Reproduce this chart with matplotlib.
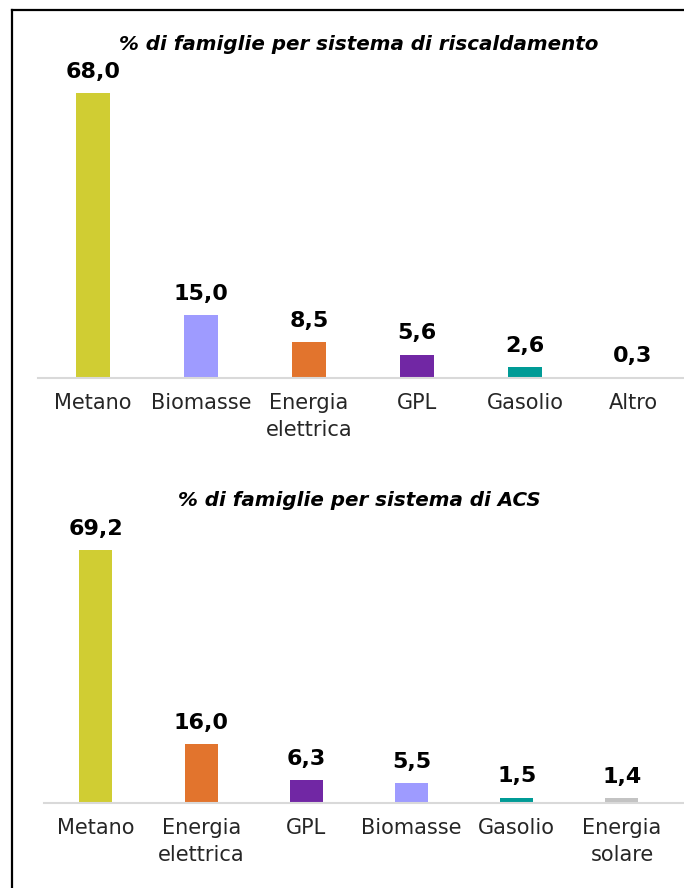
import numpy as np
import matplotlib.pyplot as plt
from matplotlib.lines import Line2D

plt.rcParams['font.family'] = ['DejaVu Sans']

# top chart: heating systems
cat_risc = ['Metano', 'Biomasse', 'Energia\nelettrica', 'GPL', 'Gasolio', 'Altro']
val_risc = [68.0, 15.0, 8.5, 5.6, 2.6, 0.3]
col_risc = ['#d0cd33', '#9e9bff', '#e2742d', '#7127a4', '#009b96', '#d0d0d0']

# bottom chart: hot water (ACS)
cat_acs = ['Metano', 'Energia\nelettrica', 'GPL', 'Biomasse', 'Gasolio', 'Energia\nsolare']
val_acs = [69.2, 16.0, 6.3, 5.5, 1.5, 1.4]
col_acs = ['#d0cd33', '#e2742d', '#7127a4', '#9e9bff', '#009b96', '#c3c3c3']

W, H = 684, 888
fig = plt.figure(figsize=(W / 100, H / 100), dpi=100)


def draw(ax, cats, vals, cols, ymax, width):
    x = np.arange(len(cats))
    ax.bar(x, vals, width=width, color=cols)
    for xi, v in zip(x, vals):
        ax.annotate(f'{v:.1f}'.replace('.', ','), (xi, v), xytext=(0, 8),
                    textcoords='offset points', ha='center', va='bottom',
                    fontsize=16, fontweight='bold', color='black')
    ax.set_ylim(0, ymax)
    ax.set_yticks([])
    ax.set_xticks(x)
    ax.set_xticklabels(cats, fontsize=15, color='#262626', linespacing=1.45)
    ax.tick_params(axis='x', length=0, pad=11)
    for s in ['top', 'right', 'left']:
        ax.spines[s].set_visible(False)
    ax.spines['bottom'].set_color('#d9d9d9')
    ax.spines['bottom'].set_linewidth(1.5)
    ax.patch.set_alpha(0)


# top axes: baseline y=378px, x from 38px
ax1 = fig.add_axes([38 / W, (H - 378) / H, (W - 38) / W, 330 / H])
draw(ax1, cat_risc, val_risc, col_risc, 330 / 4.19, 0.31)
ax1.set_xlim(-0.509, -0.509 + 646 / 108)

# bottom axes: baseline y=803px, x from 44px
ax2 = fig.add_axes([44 / W, (H - 803) / H, (W - 44) / W, 300 / H])
draw(ax2, cat_acs, val_acs, col_acs, 300 / 3.66, 0.314)
ax2.set_xlim(-0.494, -0.494 + 640 / 105.2)

fig.text(359 / W, 1 - 45 / H, '% di famiglie per sistema di riscaldamento',
         ha='center', va='center', fontsize=14.3, fontweight='bold', style='italic')
fig.text(359 / W, 1 - 500 / H, '% di famiglie per sistema di ACS',
         ha='center', va='center', fontsize=14.3, fontweight='bold', style='italic')

# frame lines on left and top
fig.add_artist(Line2D([12 / W, 12 / W], [0, 1 - 10 / H], color='black', lw=1.6))
fig.add_artist(Line2D([12 / W, 1], [1 - 10 / H, 1 - 10 / H], color='black', lw=1.6))

fig.savefig('out.png', dpi=100, facecolor='white')
